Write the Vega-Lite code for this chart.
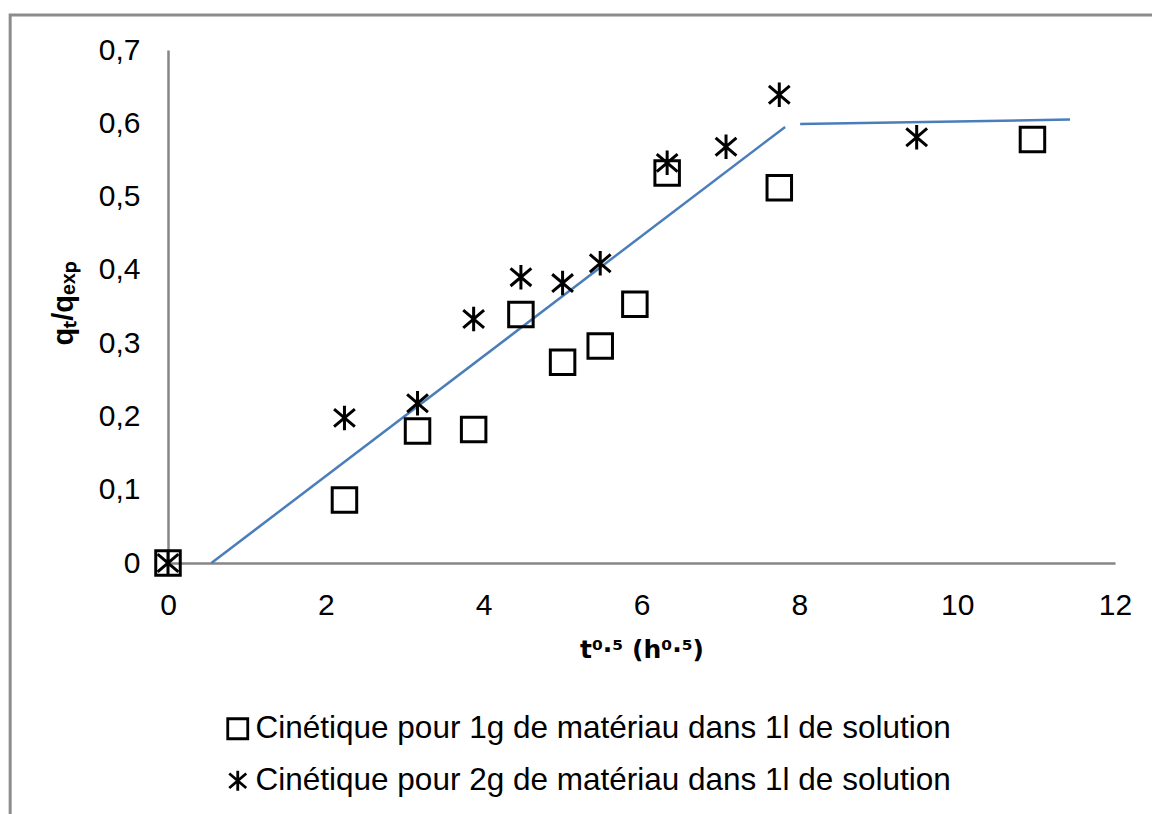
{
  "$schema": "https://vega.github.io/schema/vega-lite/v6.json",
  "width": 947,
  "height": 513,
  "autosize": {"type": "none"},
  "padding": {"left": 168, "top": 50, "right": 37, "bottom": 251},
  "background": "white",
  "config": {
    "view": {"stroke": null},
    "font": "Liberation Sans",
    "axis": {
      "domainColor": "#868686",
      "domainWidth": 2.5,
      "ticks": false,
      "grid": false,
      "labelFlush": false,
      "labelOverlap": false,
      "labelColor": "black",
      "labelFont": "Liberation Sans",
      "labelFontSize": 30,
      "titleColor": "black",
      "titleFont": "Liberation Sans",
      "titleFontWeight": "bold"
    }
  },
  "datasets": {
    "kinetics": [
      {"serie": "Cinétique pour 1g de matériau dans 1l de solution", "t": 0, "q": 0},
      {"serie": "Cinétique pour 1g de matériau dans 1l de solution", "t": 2.236, "q": 0.086},
      {"serie": "Cinétique pour 1g de matériau dans 1l de solution", "t": 3.162, "q": 0.18},
      {"serie": "Cinétique pour 1g de matériau dans 1l de solution", "t": 3.873, "q": 0.182},
      {"serie": "Cinétique pour 1g de matériau dans 1l de solution", "t": 4.472, "q": 0.339},
      {"serie": "Cinétique pour 1g de matériau dans 1l de solution", "t": 5.0, "q": 0.274},
      {"serie": "Cinétique pour 1g de matériau dans 1l de solution", "t": 5.477, "q": 0.296},
      {"serie": "Cinétique pour 1g de matériau dans 1l de solution", "t": 5.916, "q": 0.353},
      {"serie": "Cinétique pour 1g de matériau dans 1l de solution", "t": 6.325, "q": 0.532},
      {"serie": "Cinétique pour 1g de matériau dans 1l de solution", "t": 7.746, "q": 0.512},
      {"serie": "Cinétique pour 1g de matériau dans 1l de solution", "t": 10.954, "q": 0.578},
      {"serie": "Cinétique pour 2g de matériau dans 1l de solution", "t": 0, "q": 0},
      {"serie": "Cinétique pour 2g de matériau dans 1l de solution", "t": 2.236, "q": 0.198},
      {"serie": "Cinétique pour 2g de matériau dans 1l de solution", "t": 3.162, "q": 0.218},
      {"serie": "Cinétique pour 2g de matériau dans 1l de solution", "t": 3.873, "q": 0.333},
      {"serie": "Cinétique pour 2g de matériau dans 1l de solution", "t": 4.472, "q": 0.39},
      {"serie": "Cinétique pour 2g de matériau dans 1l de solution", "t": 5.0, "q": 0.382},
      {"serie": "Cinétique pour 2g de matériau dans 1l de solution", "t": 5.477, "q": 0.409},
      {"serie": "Cinétique pour 2g de matériau dans 1l de solution", "t": 6.325, "q": 0.546},
      {"serie": "Cinétique pour 2g de matériau dans 1l de solution", "t": 7.071, "q": 0.568},
      {"serie": "Cinétique pour 2g de matériau dans 1l de solution", "t": 7.746, "q": 0.639},
      {"serie": "Cinétique pour 2g de matériau dans 1l de solution", "t": 9.487, "q": 0.581}
    ],
    "fit": [
      {"segment": "diffusion", "t": 0.55, "q": 0.0},
      {"segment": "diffusion", "t": 7.82, "q": 0.595},
      {"segment": "plateau", "t": 8.01, "q": 0.599},
      {"segment": "plateau", "t": 11.43, "q": 0.605}
    ]
  },
  "layer": [
    {
      "data": {"values": [{"frame": "chart area"}]},
      "mark": {"type": "rect", "filled": false, "stroke": "#8c8c8c", "strokeWidth": 3},
      "encoding": {
        "x": {"datum": -2.0, "type": "quantitative", "scale": {"domain": [0, 12], "nice": false, "zero": false}},
        "x2": {"datum": 14},
        "y": {"datum": 0.7476, "type": "quantitative", "scale": {"domain": [0, 0.7], "nice": false, "zero": false}},
        "y2": {"datum": -1}
      }
    },
    {
      "data": {"name": "fit"},
      "mark": {"type": "line", "color": "#4a7ebb", "strokeWidth": 2.5},
      "encoding": {
        "x": {"field": "t", "type": "quantitative", "scale": {"domain": [0, 12], "nice": false, "zero": false}},
        "y": {"field": "q", "type": "quantitative", "scale": {"domain": [0, 0.7], "nice": false, "zero": false}},
        "detail": {"field": "segment"}
      }
    },
    {
      "data": {"name": "kinetics"},
      "mark": {"type": "point", "filled": false, "color": "black", "strokeWidth": 3, "size": 600, "opacity": 1},
      "encoding": {
        "x": {
          "field": "t",
          "type": "quantitative",
          "scale": {"domain": [0, 12], "nice": false, "zero": false},
          "axis": {
            "values": [0, 2, 4, 6, 8, 10, 12],
            "format": "d",
            "labelPadding": 27,
            "title": "t⁰·⁵ (h⁰·⁵)",
            "titleFont": "DejaVu Sans",
            "titleFontSize": 25,
            "titleBaseline": "alphabetic",
            "titleY": 94
          }
        },
        "y": {
          "field": "q",
          "type": "quantitative",
          "scale": {"domain": [0, 0.7], "nice": false, "zero": false},
          "axis": {
            "values": [0, 0.1, 0.2, 0.3, 0.4, 0.5, 0.6, 0.7],
            "labelExpr": "datum.value == 0 ? '0' : replace(format(datum.value, '.1f'), '.', ',')",
            "labelPadding": 28,
            "title": "qₜ/qₑₓₚ",
            "titleFontSize": 29,
            "titleAngle": -90,
            "titleAlign": "center",
            "titleBaseline": "alphabetic",
            "titleX": -96,
            "titleY": 253
          }
        },
        "shape": {
          "field": "serie",
          "type": "nominal",
          "scale": {
            "domain": [
              "Cinétique pour 1g de matériau dans 1l de solution",
              "Cinétique pour 2g de matériau dans 1l de solution"
            ],
            "range": ["square", "M0,-1V1M-0.85,-0.72L0.85,0.72M-0.85,0.72L0.85,-0.72"]
          },
          "legend": {
            "title": null,
            "orient": "none",
            "legendX": 54,
            "legendY": 663,
            "padding": 0,
            "labelFont": "Liberation Sans",
            "labelFontSize": 31.5,
            "labelColor": "black",
            "labelOffset": 2,
            "labelLimit": 900,
            "rowPadding": 19,
            "symbolSize": 400,
            "symbolStrokeColor": "black",
            "symbolFillColor": "transparent",
            "symbolStrokeWidth": 2.8
          }
        }
      }
    }
  ]
}
